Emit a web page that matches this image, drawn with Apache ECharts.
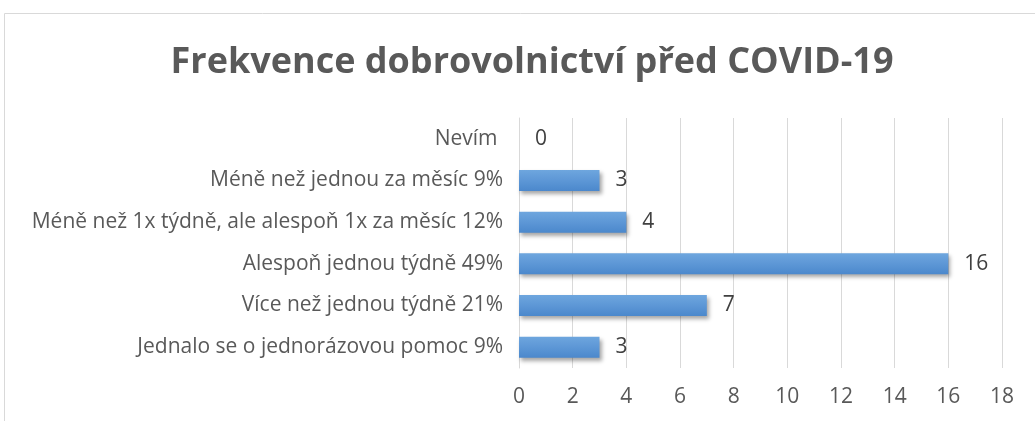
<!DOCTYPE html>
<html>
<head>
<meta charset="utf-8">
<script src="https://cdn.jsdelivr.net/npm/echarts@6/dist/echarts.min.js"></script>
<style>
  html, body { margin: 0; padding: 0; background: #fff; }
  #chart { width: 1035px; height: 421px; }
</style>
</head>
<body>
<div id="chart"></div>
<script>
const categories = [
    "Nevím ",
    "Méně než jednou za měsíc 9%",
    "Méně než 1x týdně, ale alespoň 1x za měsíc 12%",
    "Alespoň jednou týdně 49%",
    "Více než jednou týdně 21%",
    "Jednalo se o jednorázovou pomoc 9%"
];
const counts = [0, 3, 4, 16, 7, 3];
const xTicks = [0, 18, 2];

const font = "'Open Sans', 'DejaVu Sans', sans-serif";
const chart = echarts.init(document.getElementById("chart"));

chart.setOption({
    animation: false,
    title: {
        text: "Frekvence dobrovolnictví před COVID-19",
        left: 527,
        top: 40,
        textAlign: "center",
        textStyle: { fontFamily: font, fontSize: 36, fontWeight: "bold", color: "#595959" }
    },
    graphic: [{
        type: "rect",
        shape: { x: 4.5, y: 13.5, width: 1100, height: 500 },
        style: { fill: "none", stroke: "#d9d9d9", lineWidth: 1 },
        silent: true
    }],
    grid: { left: 519, right: 33, top: 118, bottom: 53 },
    xAxis: {
        type: "value",
        min: xTicks[0],
        max: xTicks[1],
        interval: xTicks[2],
        axisLine: { show: false },
        axisTick: { show: false },
        axisLabel: { fontFamily: font, fontSize: 21, color: "#595959", margin: 19 },
        splitLine: { lineStyle: { color: "#d9d9d9", width: 1 } }
    },
    yAxis: {
        type: "category",
        data: categories,
        inverse: true,
        axisLine: { show: true, lineStyle: { color: "#d9d9d9" } },
        axisTick: { show: false },
        axisLabel: { fontFamily: font, fontSize: 21, color: "#595959", margin: 16 }
    },
    series: [{
        type: "bar",
        data: counts,
        barWidth: 21,
        itemStyle: {
            color: new echarts.graphic.LinearGradient(0, 0, 0, 1, [
                { offset: 0, color: "#6ea6de" },
                { offset: 0.5, color: "#5d97d6" },
                { offset: 1, color: "#4b88cc" }
            ]),
            shadowColor: "rgba(0,0,0,0.35)",
            shadowBlur: 4,
            shadowOffsetX: 2,
            shadowOffsetY: 3
        },
        label: {
            show: true,
            position: "right",
            distance: 16,
            fontFamily: font,
            fontSize: 21,
            color: "#404040"
        }
    }]
});
</script>
</body>
</html>
